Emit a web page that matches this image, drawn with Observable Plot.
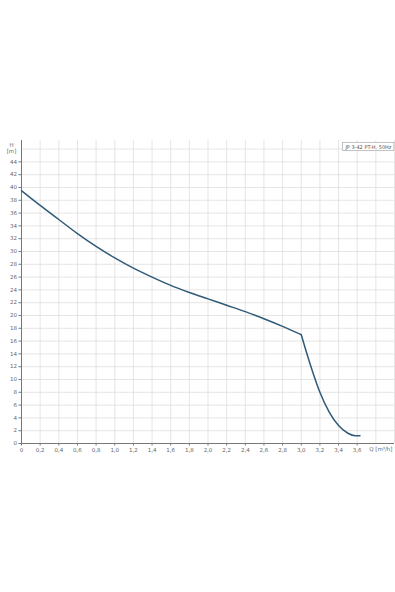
<!DOCTYPE html>
<html><head><meta charset="utf-8">
<script src="https://cdn.jsdelivr.net/npm/d3@7"></script>
<script src="https://cdn.jsdelivr.net/npm/@observablehq/plot@0.6"></script>
<style>
html,body{margin:0;padding:0;background:#fff;}
#chart{position:relative;width:395px;height:592px;}
</style></head>
<body><div id="chart"></div>
<script>
// upper branch of the pump curve (up to the knee at 3.0)
const flowQ1 = [0, 0.2, 0.4, 0.6, 0.8, 1.0, 1.2, 1.4, 1.6, 1.8, 2.0, 2.2, 2.4, 2.6, 2.8, 3.0];
const headH1 = [39.5, 37.2, 35.0, 32.8, 30.8, 29.0, 27.4, 26.0, 24.7, 23.6, 22.6, 21.6, 20.6, 19.5, 18.3, 17.0];
// steep branch after the knee
const flowQ2 = [3.0, 3.1, 3.2, 3.3, 3.4, 3.5, 3.58, 3.63];
const headH2 = [17.0, 12.2, 8.0, 4.9, 2.8, 1.6, 1.2, 1.2];
const xGrid = d3.range(0, 21).map(i => +(i * 0.2).toFixed(1));
const xTickLabels = d3.range(0, 19).map(i => +(i * 0.2).toFixed(1));
const yGrid = d3.range(0, 24).map(i => i * 2);
const yTickLabels = d3.range(0, 23).map(i => i * 2);
const titleText = "JP 3-42 PT-H, 50Hz";
const xLabel = "Q [m³/h]";
const yLabel1 = "H";
const yLabel2 = "[m]";

const data = [
  ...flowQ1.map((q, i) => ({q, h: headH1[i], seg: "a"})),
  ...flowQ2.map((q, i) => ({q, h: headH2[i], seg: "b"}))
];
const fmt = v => v === 0 ? "0" : v.toFixed(1).replace(".", ",");
const fs = 5.5;

const plot = Plot.plot({
  width: 395, height: 592,
  marginTop: 140, marginBottom: 149, marginLeft: 21, marginRight: 1,
  style: {fontFamily: "DejaVu Sans, sans-serif", background: "#fff"},
  x: {domain: [0, 4.0], axis: null},
  y: {domain: [0, 47.34], axis: null},
  marks: [
    Plot.ruleX(xGrid, {x: d => d, stroke: "#dedede", strokeWidth: 0.8}),
    Plot.ruleY(yGrid, {y: d => d, stroke: "#dedede", strokeWidth: 0.8}),
    Plot.ruleX([0], {stroke: "#777", strokeWidth: 1}),
    Plot.ruleY([0], {stroke: "#777", strokeWidth: 1}),
    Plot.axisX({ticks: xTickLabels, tickFormat: fmt, tickSize: 2.5, fontSize: fs, fill: "#666", stroke: "#777", tickPadding: 2, label: null}),
    Plot.axisY({ticks: yTickLabels, tickFormat: d => String(d), tickSize: 2.5, fontSize: fs, fill: "#666", stroke: "#777", tickPadding: 2, label: null}),
    Plot.line(data, {x: "q", y: "h", z: "seg", stroke: "#2f5a78", strokeWidth: 1.5, curve: "monotone-x", strokeLinejoin: "round"}),
    Plot.text([xLabel], {frameAnchor: "bottom-right", dy: 7, dx: -2, text: d => d, fontSize: fs, fill: "#666", textAnchor: "end"}),
    Plot.text([yLabel1], {frameAnchor: "top-left", dx: -10, dy: 3, text: d => d, fontSize: fs, fill: "#666", textAnchor: "middle"}),
    Plot.text([yLabel2], {frameAnchor: "top-left", dx: -10, dy: 9, text: d => d, fontSize: fs, fill: "#666", textAnchor: "middle"}),
    Plot.text([titleText], {frameAnchor: "top-right", dx: -3, dy: 4.5, text: d => d, fontSize: 5, fill: "#555", textAnchor: "end", className: "ttl"})
  ]
});
document.getElementById("chart").appendChild(plot);
// box around the title
const t = plot.querySelector(".ttl text");
if (t) {
  const b = t.getBBox();
  const g = t.parentNode;
  const tr = t.getAttribute("transform");
  const r = document.createElementNS("http://www.w3.org/2000/svg", "rect");
  r.setAttribute("x", b.x - 2); r.setAttribute("y", b.y - 1);
  r.setAttribute("width", b.width + 4); r.setAttribute("height", b.height + 2);
  r.setAttribute("fill", "#fff"); r.setAttribute("stroke", "#aaa"); r.setAttribute("stroke-width", 0.7);
  if (tr) r.setAttribute("transform", tr);
  g.insertBefore(r, t);
}
</script></body></html>
